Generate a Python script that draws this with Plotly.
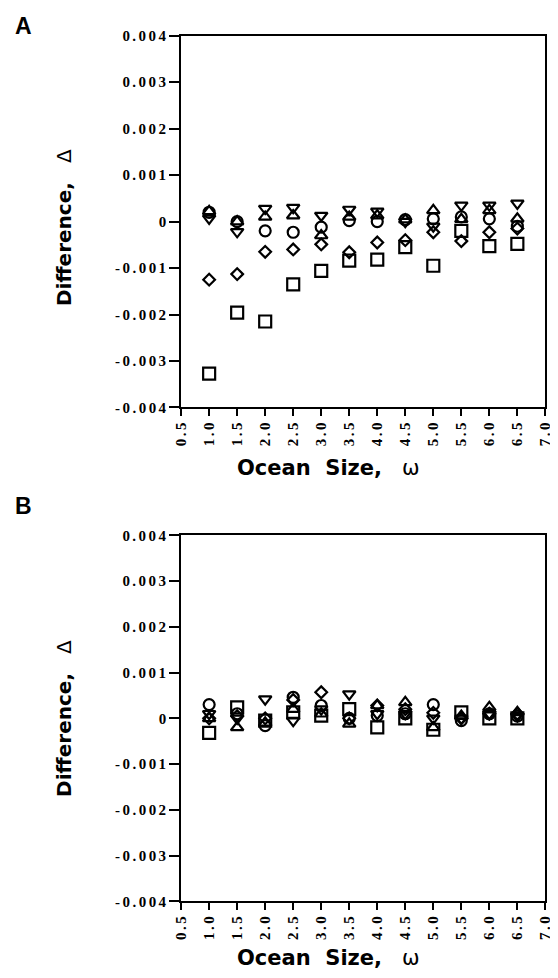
import plotly.graph_objects as go
from plotly.subplots import make_subplots

ocean_size = [1.0, 1.5, 2.0, 2.5, 3.0, 3.5, 4.0, 4.5, 5.0, 5.5, 6.0, 6.5]

# Panel A (values x 1e-3)
a_square   = [-3.27, -1.96, -2.15, -1.35, -1.06, -0.84, -0.82, -0.55, -0.95, -0.20, -0.53, -0.48]
a_diamond  = [-1.25, -1.13, -0.65, -0.60, -0.49, -0.66, -0.45, -0.40, -0.23, -0.42, -0.23, -0.15]
a_circle   = [0.20, 0.00, -0.20, -0.23, -0.12, 0.02, 0.00, 0.04, 0.06, 0.10, 0.06, -0.10]
a_tri_up   = [0.22, 0.00, 0.10, 0.13, -0.30, 0.10, 0.13, 0.04, 0.24, 0.05, 0.24, 0.06]
a_tri_down = [0.07, -0.22, 0.28, 0.30, 0.13, 0.26, 0.22, 0.00, -0.10, 0.35, 0.35, 0.39]

# Panel B (values x 1e-3)
b_square   = [-0.32, 0.24, -0.05, 0.13, 0.06, 0.20, -0.20, 0.00, -0.25, 0.13, 0.00, 0.00]
b_diamond  = [0.00, 0.05, 0.00, 0.40, 0.57, 0.00, 0.28, 0.20, 0.12, 0.00, 0.10, 0.10]
b_circle   = [0.30, 0.10, -0.16, 0.46, 0.28, 0.00, 0.06, 0.10, 0.30, -0.05, 0.10, 0.05]
b_tri_up   = [0.00, -0.20, -0.10, 0.20, 0.10, -0.12, 0.28, 0.35, -0.20, 0.05, 0.24, 0.13]
b_tri_down = [0.10, 0.00, 0.42, -0.05, 0.20, 0.53, 0.10, 0.10, 0.00, 0.00, 0.10, 0.05]

y_tickvals = [0.004, 0.003, 0.002, 0.001, 0, -0.001, -0.002, -0.003, -0.004]
y_ticktext = ["0.004", "0.003", "0.002", "0.001", "0", "-0.001", "-0.002", "-0.003", "-0.004"]
x_tickvals = [0.5, 1.0, 1.5, 2.0, 2.5, 3.0, 3.5, 4.0, 4.5, 5.0, 5.5, 6.0, 6.5, 7.0]
x_ticktext = ["0.5", "1.0", "1.5", "2.0", "2.5", "3.0", "3.5", "4.0", "4.5", "5.0", "5.5", "6.0", "6.5", "7.0"]

W, H = 558, 978
GAP = "\u2006"


def spaced(s):
    return "<b>" + GAP.join(list(s)) + "</b>"


fig = make_subplots(rows=2, cols=1)

symbols = [("square-open", 12), ("diamond-open", 9), ("circle-open", 11),
           ("triangle-up-open", 11), ("triangle-down-open", 11)]

panels = [
    (1, [a_square, a_diamond, a_circle, a_tri_up, a_tri_down]),
    (2, [b_square, b_diamond, b_circle, b_tri_up, b_tri_down]),
]
for row, series in panels:
    for (sym, sz), vals in zip(symbols, series):
        fig.add_trace(go.Scatter(
            x=ocean_size, y=[v * 1e-3 for v in vals], mode="markers",
            marker=dict(symbol=sym, size=sz, color="black",
                        line=dict(color="black", width=2.2)),
            showlegend=False), row=row, col=1)

LEFT, RIGHT = 170, 545
A_TOP, A_BOT = 20, 398
B_TOP, B_BOT = 528, 900
x_dom = [LEFT / W, RIGHT / W]
y_doms = {1: [1 - A_BOT / H, 1 - A_TOP / H], 2: [1 - B_BOT / H, 1 - B_TOP / H]}

tickfont = dict(family="Liberation Serif", size=15, color="black")
for row in (1, 2):
    fig.update_xaxes(row=row, col=1, domain=x_dom, range=[0.5, 7.0],
                     tickvals=x_tickvals, ticktext=[spaced(t) for t in x_ticktext],
                     tickangle=-90,
                     ticks="outside", ticklen=7, tickwidth=2, tickcolor="black",
                     showline=True, linecolor="black", linewidth=2, mirror=True,
                     showgrid=False, zeroline=False, tickfont=tickfont)
    fig.update_yaxes(row=row, col=1, domain=y_doms[row], range=[-0.004, 0.004],
                     tickvals=y_tickvals, ticktext=[spaced(t) for t in y_ticktext],
                     ticks="outside", ticklen=10, tickwidth=2, tickcolor="black",
                     showline=True, linecolor="black", linewidth=2, mirror=True,
                     showgrid=False, zeroline=False, tickfont=tickfont)

sans = "DejaVu Sans"
NB = "\u00a0"
ann = []
panel_text = [
    ("A", 10, (A_TOP + A_BOT) / 2 + 6, A_BOT + 62),
    ("B", B_TOP - 30, (B_TOP + B_BOT) / 2, B_BOT + 58),
]
for label, y_lab, y_ytitle, y_xtitle in panel_text:
    ann.append(dict(text="<b>" + label + "</b>", x=8 / W, y=1 - y_lab / H,
                    xref="paper", yref="paper", showarrow=False,
                    xanchor="center", yanchor="middle",
                    font=dict(family="Liberation Sans", size=23, color="black")))
    ann.append(dict(text="<b>Difference,</b>" + NB * 3 + "Δ", x=50 / W, y=1 - y_ytitle / H,
                    xref="paper", yref="paper", showarrow=False, textangle=-90,
                    xanchor="center", yanchor="middle",
                    font=dict(family=sans, size=20, color="black")))
    ann.append(dict(text="<b>Ocean" + NB * 2 + "Size,</b>" + NB * 3 + "ω",
                    x=322 / W, y=1 - y_xtitle / H,
                    xref="paper", yref="paper", showarrow=False,
                    xanchor="center", yanchor="middle",
                    font=dict(family=sans, size=21, color="black")))

fig.update_layout(width=W, height=H, margin=dict(l=0, r=0, t=0, b=0),
                  paper_bgcolor="white", plot_bgcolor="white",
                  annotations=ann)
fig.write_html("out.html")
